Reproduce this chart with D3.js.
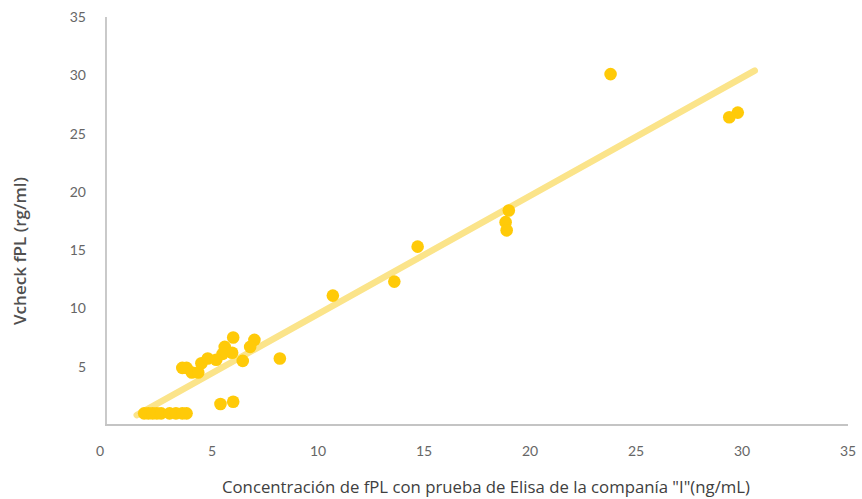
<!DOCTYPE html>
<html lang="es">
<head>
  <meta charset="utf-8">
  <title>fPL</title>
  <script src="https://d3js.org/d3.v7.min.js"></script>
  <style>
    body { margin: 0; background: #fff; }
    #chart text { font-family: Lato, "Open Sans", sans-serif; }
    #chart text.titulo { font-family: "Open Sans", sans-serif; }
  </style>
</head>
<body>
  <div id="chart"></div>

  <script>
    "use strict"

    // valores
    var elisaX = [23.8, 29.8, 29.4, 19.0, 18.85, 18.9, 14.7, 13.6, 10.7, 8.2,
                  6.0, 7.0, 6.8, 5.6, 5.5, 5.95, 6.45, 3.6, 3.8, 4.05, 4.35, 4.5, 4.8, 5.2,
                  5.4, 6.0,
                  1.8, 2.0, 2.2, 2.4, 2.6, 3.0, 3.3, 3.6, 3.8];
    var vcheckY = [30.1, 26.8, 26.4, 18.4, 17.4, 16.7, 15.3, 12.3, 11.1, 5.7,
                   7.5, 7.3, 6.7, 6.7, 6.1, 6.2, 5.5, 4.9, 4.9, 4.5, 4.5, 5.3, 5.7, 5.6,
                   1.8, 2.0,
                   1.0, 1.0, 1.0, 1.0, 1.0, 1.0, 1.0, 1.0, 1.0];
    var tendX = [1.45, 30.6];
    var tendY = [0.85, 30.4];
    var ticks = [0, 5, 10, 15, 20, 25, 30, 35];
    var ticksY = [5, 10, 15, 20, 25, 30, 35];

    var ancho = 862, alto = 499;
    var margin = {top: 17, right: 14, bottom: 74, left: 106};

    var svg = d3.select('#chart').append('svg')
      .attr('width', ancho)
      .attr('height', alto);

    var x = d3.scaleLinear().domain([0, 35]).range([margin.left, ancho - margin.right]);
    var y = d3.scaleLinear().domain([0, 35]).range([alto - margin.bottom, margin.top]);

    var puntos = elisaX.map((d, i) => ({x: d, y: vcheckY[i]}));

    // ejes (lineas grises)
    svg.append('line')
      .attr('x1', x(0)).attr('x2', x(0))
      .attr('y1', y(35)).attr('y2', y(0))
      .attr('stroke', '#c4c4c4').attr('stroke-width', 1.8);
    svg.append('line')
      .attr('x1', x(0) - 1).attr('x2', x(35))
      .attr('y1', y(0)).attr('y2', y(0))
      .attr('stroke', '#c4c4c4').attr('stroke-width', 1.8);

    // etiquetas
    svg.selectAll('.tx')
      .data(ticks)
      .enter().append('text')
        .attr('class', 'tx')
        .attr('x', d => d === 0 ? x(d) - 6 : x(d))
        .attr('y', 456)
        .attr('text-anchor', 'middle')
        .attr('font-size', 14)
        .attr('fill', '#666')
        .text(d => d);

    svg.selectAll('.ty')
      .data(ticksY)
      .enter().append('text')
        .attr('class', 'ty')
        .attr('x', 86)
        .attr('y', d => y(d) + 5)
        .attr('text-anchor', 'end')
        .attr('font-size', 14)
        .attr('fill', '#666')
        .text(d => d);

    // linea de tendencia
    svg.append('line')
      .attr('x1', x(tendX[0])).attr('y1', y(tendY[0]))
      .attr('x2', x(tendX[1])).attr('y2', y(tendY[1]))
      .attr('stroke', '#fbe48a')
      .attr('stroke-width', 6.5)
      .attr('stroke-linecap', 'round');

    svg.selectAll('circle')
      .data(puntos)
      .enter().append('circle')
        .attr('cx', d => x(d.x))
        .attr('cy', d => y(d.y))
        .attr('r', 6.3)
        .attr('fill', '#ffca08');

    svg.append('text')
      .attr('class', 'titulo')
      .attr('x', 486).attr('y', 493)
      .attr('text-anchor', 'middle')
      .attr('font-size', 16.5)
      .attr('fill', '#404040')
      .attr('textLength', 528)
      .attr('lengthAdjust', 'spacingAndGlyphs')
      .text('Concentración de fPL con prueba de Elisa de la companía "I"(ng/mL)');

    svg.append('text')
      .attr('class', 'titulo')
      .attr('transform', 'translate(26,251) rotate(-90)')
      .attr('text-anchor', 'middle')
      .attr('font-size', 16)
      .attr('font-weight', 600)
      .attr('fill', '#505050')
      .attr('textLength', 148)
      .attr('lengthAdjust', 'spacingAndGlyphs')
      .text('Vcheck fPL (rg/ml)');
  </script>
</body>
</html>
